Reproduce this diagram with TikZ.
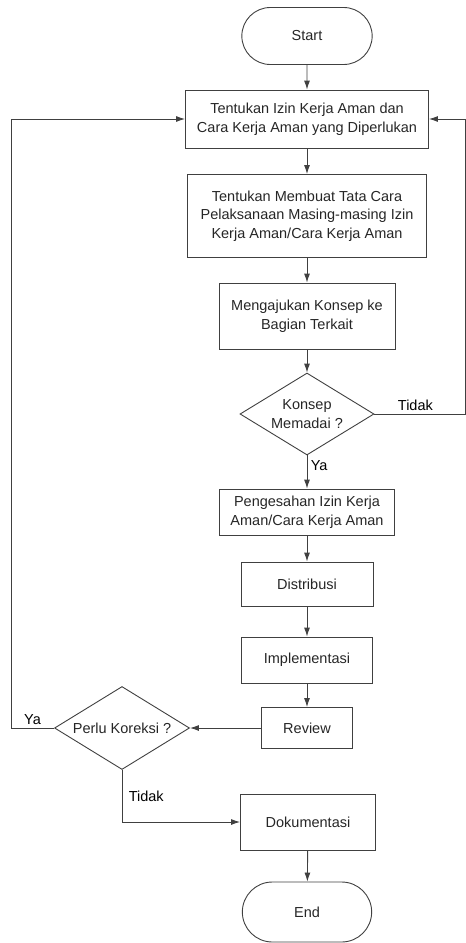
\documentclass[tikz,border=0pt]{standalone}
\usepackage{fontspec}
\setmainfont{Liberation Sans}
\usepackage{tikz}
\usetikzlibrary{shapes.geometric,shapes.misc,arrows.meta}

\begin{document}
\begin{tikzpicture}[x=1pt,y=-1pt,
	font=\fontsize{14.5}{18.5}\selectfont,
	garis/.style={draw=black!75,line width=0.9pt},
	proses/.style={garis,rectangle,align=center,inner sep=0pt,text=black!85},
	terminal/.style={garis,rounded rectangle,minimum width=137pt,minimum height=57pt,text=black!85},
	keputusan/.style={garis,diamond,aspect=1.63,inner sep=0pt,align=center,text=black!85},
	panah/.style={garis,-{Latex[length=9pt,width=6pt]}}]
\useasboundingbox (0,0) rectangle (466,943);

\node[terminal] (start) at (307,36) {Start};
\node[proses,minimum width=243pt,minimum height=58pt] (izin) at (307,119) {Tentukan Izin Kerja Aman dan\\Cara Kerja Aman yang Diperlukan};
\node[proses,minimum width=239pt,minimum height=83pt] (tatacara) at (307,216) {Tentukan Membuat Tata Cara\\Pelaksanaan Masing-masing Izin\\Kerja Aman/Cara Kerja Aman};
\node[proses,minimum width=176pt,minimum height=66pt] (konsep) at (307,316) {Mengajukan Konsep ke\\Bagian Terkait};
\node[keputusan,minimum width=134pt,minimum height=82pt] (memadai) at (307,414) {Konsep\\Memadai ?};
\node[proses,minimum width=175pt,minimum height=46pt] (sah) at (307,512) {Pengesahan Izin Kerja\\Aman/Cara Kerja Aman};
\node[proses,minimum width=132pt,minimum height=44pt] (distribusi) at (307,584) {Distribusi};
\node[proses,minimum width=131pt,minimum height=46pt] (implementasi) at (307,660) {Implementasi};
\node[proses,minimum width=91pt,minimum height=41pt] (review) at (307,728) {Review};
\node[keputusan,minimum width=135pt,minimum height=83pt] (koreksi) at (122,728) {Perlu Koreksi ?};
\node[proses,minimum width=135pt,minimum height=56pt] (dokumentasi) at (308,822) {Dokumentasi};
\node[terminal,minimum width=136pt,minimum height=60pt] (end) at (307,912) {End};

\draw[panah] (start) -- (izin);
\draw[panah] (izin) -- (tatacara);
\draw[panah] (tatacara) -- (konsep);
\draw[panah] (konsep) -- (memadai);
\draw[panah] (memadai) -- node[right,pos=0.3]{Ya} (sah);
\draw[panah] (memadai.east) -- node[above,pos=0.45]{Tidak} ++(91,0) |- (izin.east);
\draw[panah] (sah) -- (distribusi);
\draw[panah] (distribusi) -- (implementasi);
\draw[panah] (implementasi) -- (review);
\draw[panah] (review) -- (koreksi);
\draw[panah] (koreksi.west) -- node[above]{Ya} ++(-43,0) |- (izin.west);
\draw[panah] (koreksi.south) |- node[right,pos=0.25,xshift=3pt]{Tidak} (dokumentasi.west);
\draw[panah] (dokumentasi) -- (end);

\end{tikzpicture}
\end{document}
